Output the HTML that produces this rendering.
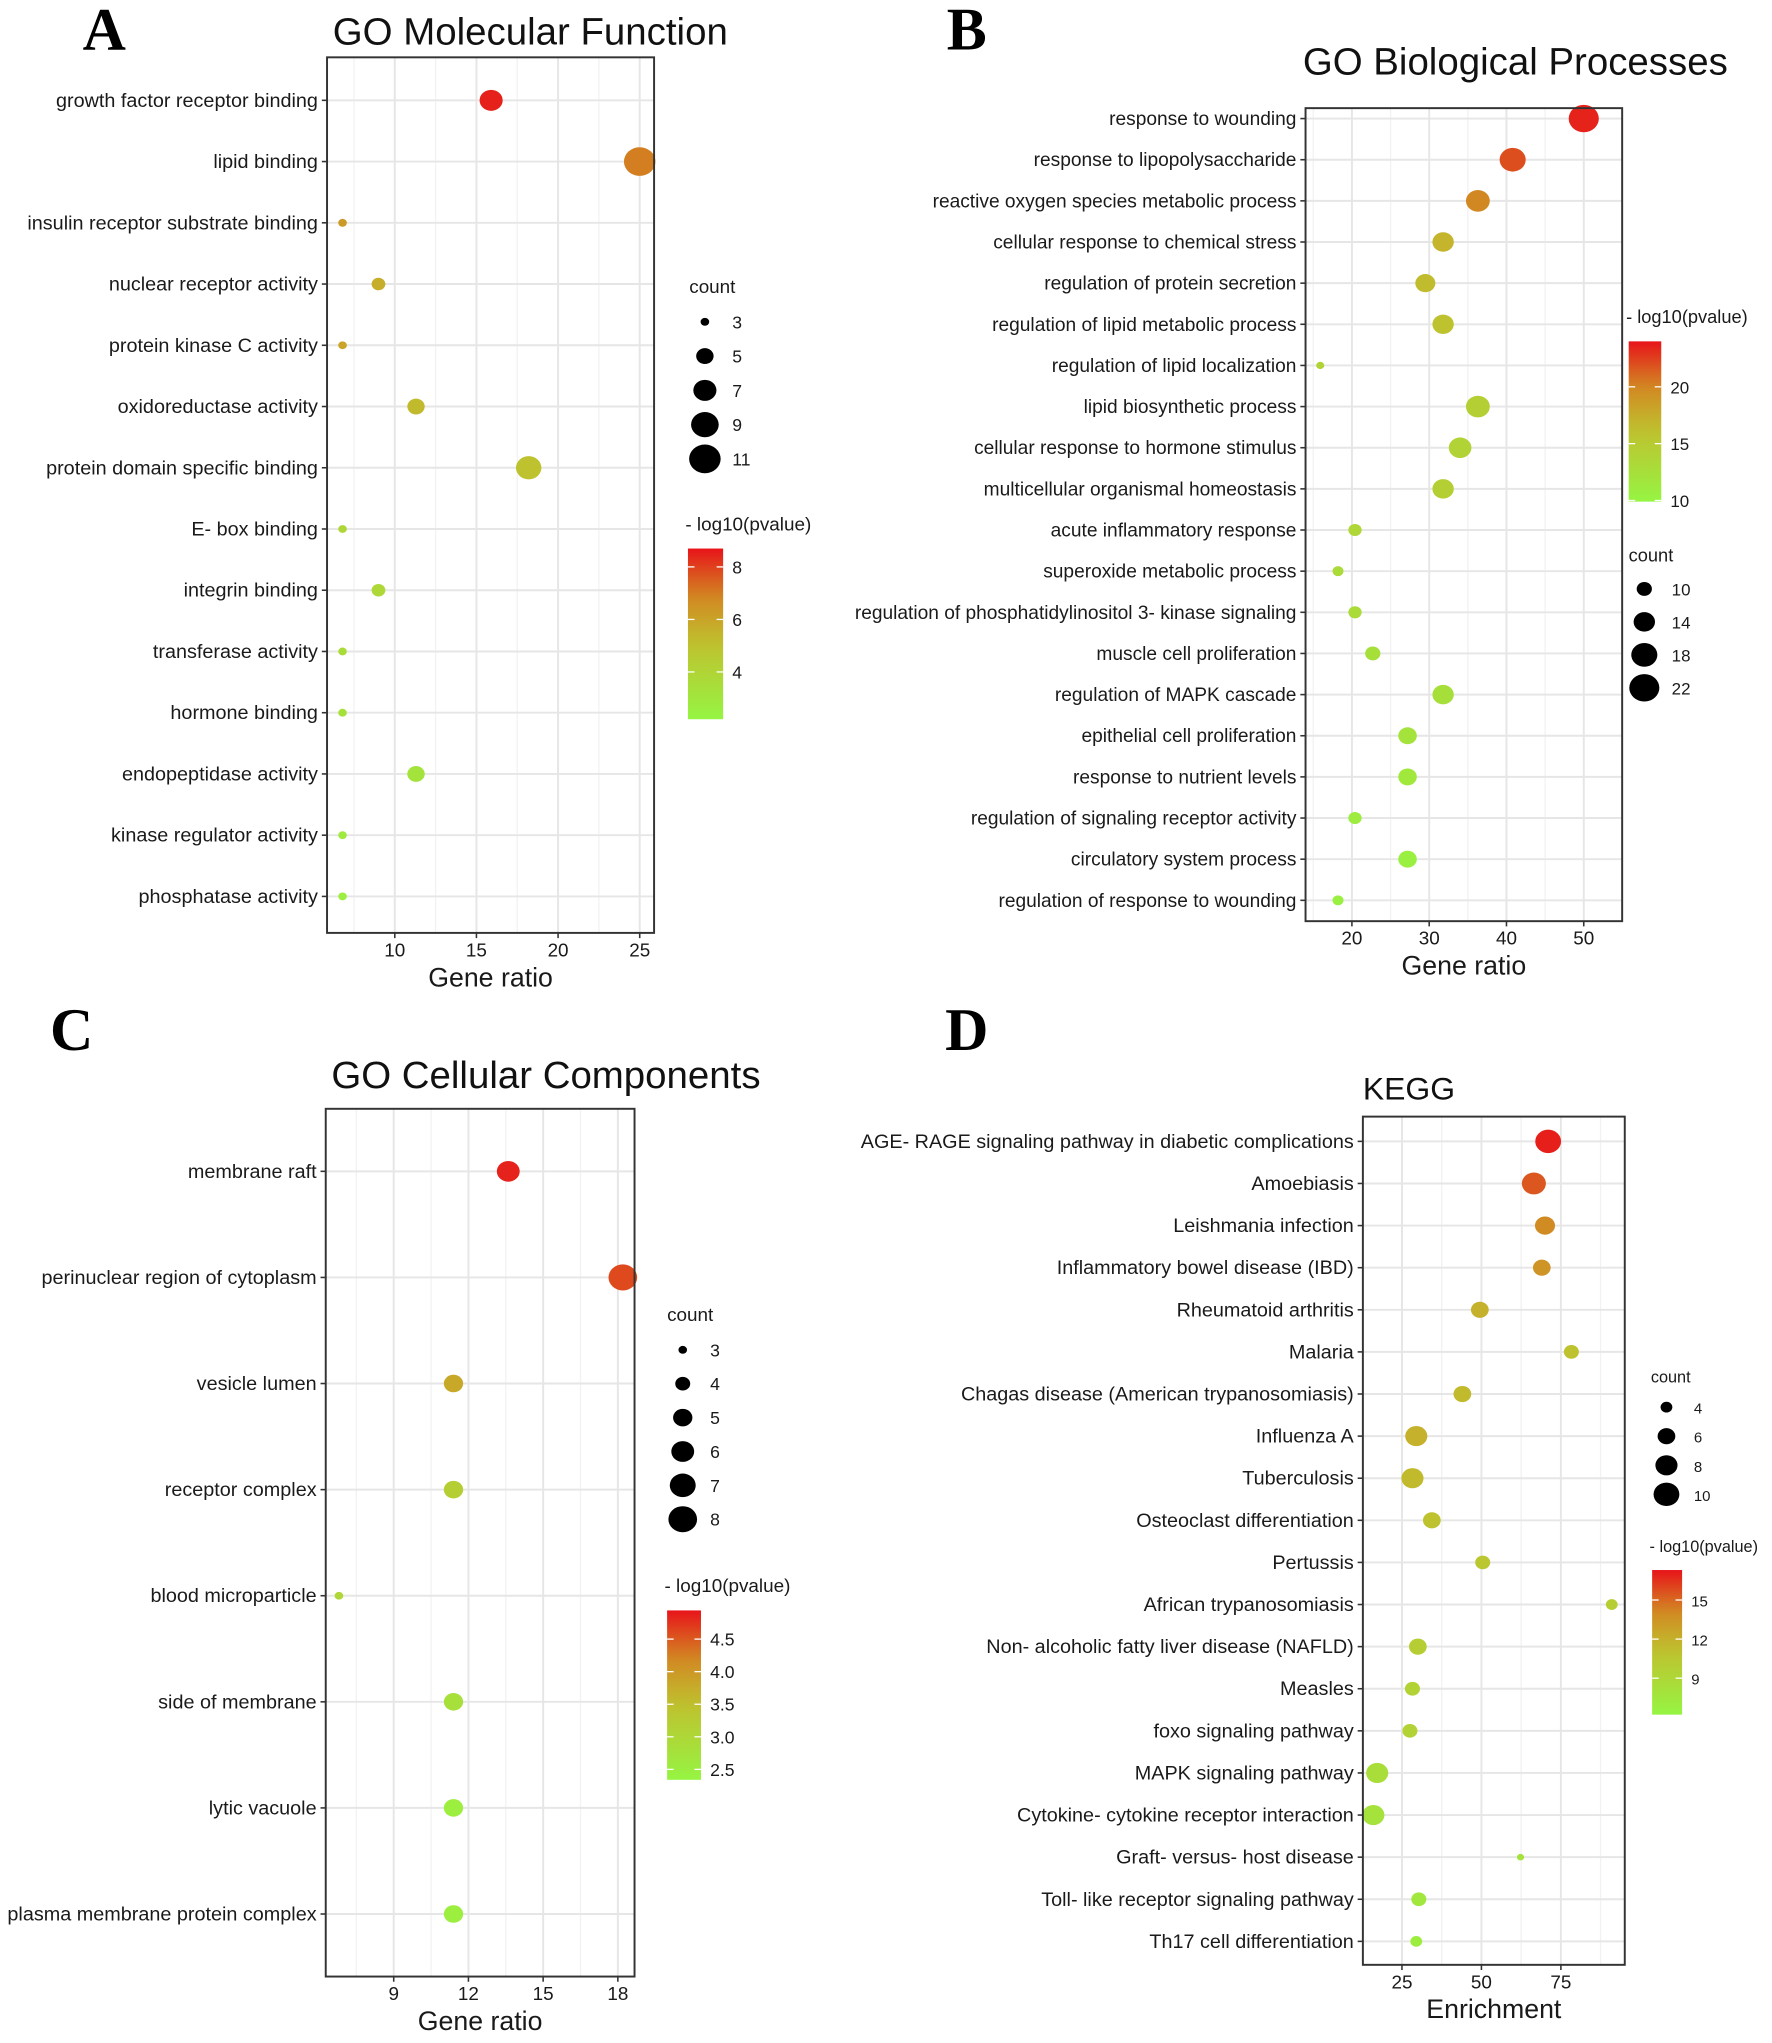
<!DOCTYPE html>
<html><head><meta charset="utf-8"><style>
html,body{margin:0;padding:0;background:#fff;}
svg{display:block;font-family:"Liberation Sans",sans-serif;}
</style></head><body>
<svg id="fig" width="1772" height="2043" viewBox="0 0 1360 1568" preserveAspectRatio="none" xmlns="http://www.w3.org/2000/svg"></svg>
<script>
// Panel A data
const aTerms=["growth factor receptor binding","lipid binding","insulin receptor substrate binding","nuclear receptor activity","protein kinase C activity","oxidoreductase activity","protein domain specific binding","E- box binding","integrin binding","transferase activity","hormone binding","endopeptidase activity","kinase regulator activity","phosphatase activity"];
const aRatio=[15.9,25,6.8,9,6.8,11.3,18.2,6.8,9,6.8,6.8,11.3,6.8,6.8];
const aCount=[7,11,3,4,3,5,8,3,4,3,3,5,3,3];
const aLogp=[8.5,7,6.3,5.7,6,5.3,5,3.9,3.8,3.6,3.3,3.2,2.8,2.6];
const aXTicks=[10,15,20,25];
const aSizeTicks=[3,5,7,9,11];
const aColorTicks=[4,6,8];
// Panel B data
const bTerms=["response to wounding","response to lipopolysaccharide","reactive oxygen species metabolic process","cellular response to chemical stress","regulation of protein secretion","regulation of lipid metabolic process","regulation of lipid localization","lipid biosynthetic process","cellular response to hormone stimulus","multicellular organismal homeostasis","acute inflammatory response","superoxide metabolic process","regulation of phosphatidylinositol 3- kinase signaling","muscle cell proliferation","regulation of MAPK cascade","epithelial cell proliferation","response to nutrient levels","regulation of signaling receptor activity","circulatory system process","regulation of response to wounding"];
const bRatio=[50,40.8,36.3,31.8,29.5,31.8,15.9,36.3,34,31.8,20.4,18.2,20.4,22.7,31.8,27.2,27.2,20.4,27.2,18.2];
const bCount=[22,18,16,14,13,14,7,16,15,14,9,8,9,10,14,12,12,9,12,8];
const bLogp=[23.5,22,20,17,16.5,16,14,14.5,14,14.5,13.5,13,13,12.5,12.5,12,11.5,11,10.5,10.5];
const bXTicks=[20,30,40,50];
const bSizeTicks=[10,14,18,22];
const bColorTicks=[10,15,20];
// Panel C data
const cTerms=["membrane raft","perinuclear region of cytoplasm","vesicle lumen","receptor complex","blood microparticle","side of membrane","lytic vacuole","plasma membrane protein complex"];
const cRatio=[13.6,18.2,11.4,11.4,6.8,11.4,11.4,11.4];
const cCount=[6,8,5,5,3,5,5,5];
const cLogp=[4.85,4.6,3.8,3.2,3.0,2.8,2.5,2.5];
const cXTicks=[9,12,15,18];
const cSizeTicks=[3,4,5,6,7,8];
const cColorTicks=[2.5,3.0,3.5,4.0,4.5];
// Panel D data
const dTerms=["AGE- RAGE signaling pathway in diabetic complications","Amoebiasis","Leishmania infection","Inflammatory bowel disease (IBD)","Rheumatoid arthritis","Malaria","Chagas disease (American trypanosomiasis)","Influenza A","Tuberculosis","Osteoclast differentiation","Pertussis","African trypanosomiasis","Non- alcoholic fatty liver disease (NAFLD)","Measles","foxo signaling pathway","MAPK signaling pathway","Cytokine- cytokine receptor interaction","Graft- versus- host disease","Toll- like receptor signaling pathway","Th17 cell differentiation"];
const dRatio=[71,66.5,70,69,49.5,78.3,44,29.5,28.3,34.4,50.4,91,30,28.3,27.5,17.2,16,62.3,30.3,29.5];
const dCount=[10,9,7,6,6,5,6,8,8,6,5,4,6,5,5,8,8,3,5,4];
const dLogp=[17,15.5,14,13.5,12,11,11.5,12,11.5,11,10.5,10,10,9.5,9.5,8.5,8,8,7.5,7];
const dXTicks=[25,50,75];
const dSizeTicks=[4,6,8,10];
const dColorTicks=[9,12,15];

const NS="http://www.w3.org/2000/svg";
const svg=document.getElementById('fig');
function mk(tag,attrs,parent){const e=document.createElementNS(NS,tag);for(const k in attrs)e.setAttribute(k,attrs[k]);(parent||svg).appendChild(e);return e;}
const stops=[[0,[150,245,66]],[0.45,[192,192,46]],[0.72,[210,135,34]],[1,[232,20,26]]];
function colorAt(t){t=Math.max(0,Math.min(1,t));for(let i=1;i<stops.length;i++){if(t<=stops[i][0]){const a=stops[i-1],b=stops[i];const f=(t-a[0])/(b[0]-a[0]);const c=a[1].map((v,j)=>Math.round(v+(b[1][j]-v)*f));return `rgb(${c[0]},${c[1]},${c[2]})`;}}return 'rgb(232,20,26)';}
let gid=0;
function panel(P){
  const g=mk('g',{});
  
  
  const xs=v=>P.L+(v-P.xmin)/(P.xmax-P.xmin)*(P.R-P.L);
  const n=P.terms.length;
  const ys=i=>P.y0+i*(P.y1-P.y0)/(n-1);
  const rs=c=>{const t=Math.max(0,(c-P.cmin)/(P.cmax-P.cmin));return Math.sqrt(P.rmin*P.rmin+t*(P.rmax*P.rmax-P.rmin*P.rmin));};
  const cs=v=>colorAt((v-P.pmin)/(P.pmax-P.pmin));
  const bg=mk('rect',{x:P.L,y:P.T,width:P.R-P.L,height:P.B-P.T,fill:'#fff'},g);
  
  
  const step=P.xticks[1]-P.xticks[0];
  for(let v=P.xticks[0]-step/2;v<P.xmax;v+=step){if(v>P.xmin)mk('line',{x1:xs(v),x2:xs(v),y1:P.T,y2:P.B,stroke:'#f2f2f2','stroke-width':1},g);}
  P.xticks.forEach(v=>mk('line',{x1:xs(v),x2:xs(v),y1:P.T,y2:P.B,stroke:'#e6e6e6','stroke-width':1.5},g));
  P.terms.forEach((t,i)=>mk('line',{x1:P.L,x2:P.R,y1:ys(i),y2:ys(i),stroke:'#e6e6e6','stroke-width':1.5},g));
  P.terms.forEach((t,i)=>{
    const r=rs(P.count[i]);
    const e=mk('ellipse',{cx:xs(P.ratio[i]),cy:ys(i),rx:r*1.1,ry:r,fill:cs(P.logp[i])},g);
    
    
    mk('line',{x1:P.L-4,x2:P.L,y1:ys(i),y2:ys(i),stroke:'#333','stroke-width':1.2},g);
    const tx=mk('text',{x:P.L-7,y:ys(i)+5,'text-anchor':'end','font-size':P.yfs||15.2,fill:'#1a1a1a'},g);
    tx.textContent=t;
    
    
  });
  const box=mk('rect',{x:P.L,y:P.T,width:P.R-P.L,height:P.B-P.T,fill:'none',stroke:'#333','stroke-width':1.5},g);
  
  
  P.xticks.forEach(v=>{
    mk('line',{x1:xs(v),x2:xs(v),y1:P.B,y2:P.B+4,stroke:'#333','stroke-width':1.2},g);
    const tx=mk('text',{x:xs(v),y:P.B+18,'text-anchor':'middle','font-size':14.5,fill:'#1a1a1a'},g);
    tx.textContent=v;
    
    
  });
  const xt=mk('text',{x:(P.L+P.R)/2,y:P.B+41,'text-anchor':'middle','font-size':20.5,fill:'#1a1a1a'},g);
  xt.textContent=P.xlabel;
  
  
  const ti=mk('text',{x:P.titleX,y:P.titleY,'text-anchor':P.titleAnchor||'middle','font-size':P.titleSize,fill:'#111'},g);
  ti.textContent=P.title;
  
  
  const lt=mk('text',{x:P.letterX,y:P.letterY,'text-anchor':'middle','font-size':46,'font-weight':'bold','font-family':'"Liberation Serif",serif',fill:'#000'},g);
  lt.textContent=P.letter;
  
  
  const st=mk('text',{x:P.sx-12,y:P.sy,'font-size':P.lfs,fill:'#1a1a1a'},g);
  st.textContent='count';
  
  
  P.sizeTicks.forEach((c,i)=>{
    const y=P.sy+P.sfirst+i*P.sstep;const r=rs(c);
    const e=mk('ellipse',{cx:P.sx,cy:y,rx:r*1.1,ry:r,fill:'#000'},g);
    
    
    const tx=mk('text',{x:P.sx+21,y:y+5,'font-size':P.lfs-1,fill:'#1a1a1a'},g);
    tx.textContent=c;
    
    
  });
  const id='grad'+(gid++);
  const defs=mk('defs',{},g);
  const lg=mk('linearGradient',{id:id,x1:0,y1:1,x2:0,y2:0},defs);
  for(let k=0;k<=10;k++)mk('stop',{offset:k/10,'stop-color':colorAt(k/10)},lg);
  const ctt=mk('text',{x:P.cx-2,y:P.cy-14,'font-size':P.lfs,fill:'#1a1a1a'},g);
  ctt.textContent='- log10(pvalue)';
  
  
  const bar=mk('rect',{x:P.cx,y:P.cy,width:P.cw,height:P.ch,fill:`url(#${id})`},g);
  
  
  const cyv=v=>P.cy+P.ch-(v-P.pmin)/(P.pmax-P.pmin)*P.ch;
  P.colorTicks.forEach(v=>{
    mk('line',{x1:P.cx,x2:P.cx+5,y1:cyv(v),y2:cyv(v),stroke:'#fff','stroke-width':1},g);
    mk('line',{x1:P.cx+P.cw-5,x2:P.cx+P.cw,y1:cyv(v),y2:cyv(v),stroke:'#fff','stroke-width':1},g);
    const tx=mk('text',{x:P.cx+P.cw+7,y:cyv(v)+5,'font-size':P.lfs-1,fill:'#1a1a1a'},g);
    tx.textContent=(P.decimals?v.toFixed(1):v);
    
    
  });
}
panel({name:'panel-a-molecular-function',terms:aTerms,ratio:aRatio,count:aCount,logp:aLogp,xticks:aXTicks,sizeTicks:aSizeTicks,colorTicks:aColorTicks,
 L:251,R:502,T:44,B:716,y0:77,y1:688,xmin:5.85,xmax:25.88,cmin:3,cmax:11,rmin:3,rmax:11,pmin:2.2,pmax:8.7,
 xlabel:'Gene ratio',title:'GO Molecular Function',titleX:407,titleY:34,titleSize:29.5,letter:'A',letterX:80,letterY:38,
 sx:541,sy:225,sfirst:22,sstep:26.3,lfs:14.5,cx:528,cy:421,cw:27,ch:131});
panel({name:'panel-b-biological-processes',terms:bTerms,ratio:bRatio,count:bCount,logp:bLogp,xticks:bXTicks,sizeTicks:bSizeTicks,colorTicks:bColorTicks,yfs:14.7,
 L:1002,R:1245,T:83,B:707,y0:91,y1:691,xmin:14.0,xmax:54.97,cmin:7,cmax:22,rmin:2.8,rmax:10.5,pmin:9.9,pmax:24,
 xlabel:'Gene ratio',title:'GO Biological Processes',titleX:1163,titleY:57,titleSize:29.5,letter:'B',letterX:742,letterY:38,
 sx:1262,sy:431,sfirst:21,sstep:25.3,lfs:14,cx:1250,cy:262,cw:25,ch:123});
panel({name:'panel-c-cellular-components',terms:cTerms,ratio:cRatio,count:cCount,logp:cLogp,xticks:cXTicks,sizeTicks:cSizeTicks,colorTicks:cColorTicks,decimals:true,
 L:250,R:487,T:851,B:1517,y0:899,y1:1469,xmin:6.27,xmax:18.67,cmin:3,cmax:8,rmin:3,rmax:10,pmin:2.34,pmax:4.94,
 xlabel:'Gene ratio',title:'GO Cellular Components',titleX:419,titleY:835,titleSize:29.5,letter:'C',letterX:55,letterY:806,
 sx:524,sy:1014,sfirst:22,sstep:26,lfs:14.5,cx:512,cy:1236,cw:26,ch:130});
panel({name:'panel-d-kegg',terms:dTerms,ratio:dRatio,count:dCount,logp:dLogp,xticks:dXTicks,sizeTicks:dSizeTicks,colorTicks:dColorTicks,
 L:1046,R:1247,T:857,B:1508,y0:876,y1:1490,xmin:12.7,xmax:95.1,cmin:3,cmax:10,rmin:2.5,rmax:9,pmin:6.2,pmax:17.3,
 xlabel:'Enrichment',title:'KEGG',titleX:1046,titleY:844,titleAnchor:'start',titleSize:24.5,letter:'D',letterX:742,letterY:806,
 sx:1279,sy:1061,sfirst:19,sstep:22.3,lfs:12.5,cx:1268,cy:1205,cw:23,ch:111});
</script>
</body></html>
